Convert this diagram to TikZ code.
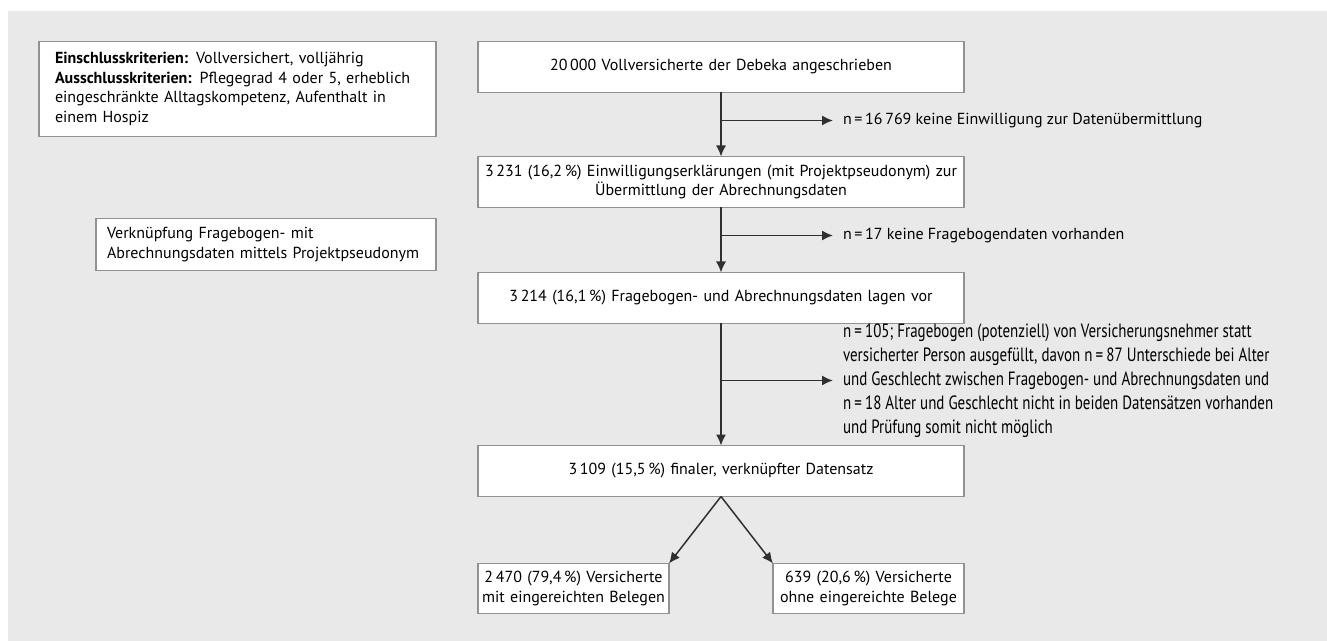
\documentclass[tikz,border=0pt]{standalone}
\usepackage{fontspec}
\setmainfont{PT Sans}
\newfontfamily\narrowfont[FakeStretch=0.78]{PT Sans}
\usetikzlibrary{positioning,arrows.meta,calc}
\definecolor{bggray}{HTML}{E9E9EA}
\definecolor{framegray}{HTML}{929292}
\definecolor{linegray}{HTML}{303030}

\begin{document}
\begin{tikzpicture}[x=0.5pt,y=-0.5pt,
            font=\fontsize{8}{9.75}\selectfont,
            box/.style={rectangle, draw=framegray, line width=0.75pt, fill=white, outer sep=0pt},
            mainbox/.style={box, minimum width=243pt, minimum height=25.5pt,
                   text width=242pt, inner xsep=0.5pt, align=center},
            smallbox/.style={box, minimum width=95.5pt, minimum height=25pt,
                   text width=91.5pt, inner xsep=2pt, inner ysep=1pt, align=center},
            note/.style={inner xsep=5pt, inner ysep=0pt, outer sep=0pt, align=left},
            arrow/.style={-{Latex[length=5.5pt,width=5pt]}, draw=linegray, line width=0.75pt}
        ]
            \useasboundingbox (0,0) rectangle (1327,641);
            \fill [bggray] (8,11) rectangle (1327,641);

            % main column
            \node [mainbox] (Invited) at (721,67) {20\,000 Vollversicherte der Debeka angeschrieben};
            \node [mainbox,below=32pt of Invited] (Consent) {3\,231 (16,2\,\%) Einwilligungserklärungen (mit Projektpseudonym) zur\\Übermittlung der Abrechnungsdaten};
            \node [mainbox,below=32.5pt of Consent] (Linked) {3\,214 (16,1\,\%) Fragebogen- und Abrechnungsdaten lagen vor};
            \node [mainbox,below=61pt of Linked] (Final) {3\,109 (15,5\,\%) finaler, verknüpfter Datensatz};
            \node [smallbox,below=33.5pt of Final.south west,anchor=north west] (WithReceipts) {2\,470 (79,4\,\%) Versicherte\\mit eingereichten Belegen};
            \node [smallbox,below=33.5pt of Final.south east,anchor=north east] (NoReceipts) {639 (20,6\,\%) Versicherte\\ohne eingereichte Belege};

            % side notes
            \node [box,left=21pt of Invited.north west,anchor=north east,text width=182.5pt,
                   inner xsep=8pt,minimum height=47.5pt,align=left] (Criteria)
                  {\textbf{Einschlusskriterien:} Vollversichert, volljährig\\
                   \textbf{Ausschlusskriterien:} Pflegegrad 4 oder 5, erheblich\\
                   eingeschränkte Alltagskompetenz, Aufenthalt in\\
                   einem Hospiz};
            \node [box,anchor=north east,text width=159pt,inner xsep=5.5pt,minimum height=26pt,align=left] (Linkage)
                  at ($(Consent.south west)+(-21pt,-5.5pt)$)
                  {Verknüpfung Fragebogen- mit\\Abrechnungsdaten mittels Projektpseudonym};

            % exclusions
            \coordinate (split1) at ($(Invited.south)+(0,-14pt)$);
            \coordinate (split2) at ($(Consent.south)+(0,-14pt)$);
            \coordinate (split3) at ($(Linked.south)+(0,-28.5pt)$);
            \node [note,anchor=west] (Refused) at ($(split1)+(56pt,0)$) {n\,=\,16\,769 keine Einwilligung zur Datenübermittlung};
            \node [note,anchor=west] (NoSurvey) at ($(split2)+(56pt,0)$) {n\,=\,17 keine Fragebogendaten vorhanden};
            \node [note,anchor=west,font=\narrowfont\fontsize{9.6}{12}\selectfont] (Mismatch) at ($(split3)+(56pt,0)$)
                  {n\,=\,105; Fragebogen (potenziell) von Versicherungsnehmer statt\\
                   versicherter Person ausgefüllt, davon n\,=\,87 Unterschiede bei Alter\\
                   und Geschlecht zwischen Fragebogen- und Abrechnungsdaten und\\
                   n\,=\,18 Alter und Geschlecht nicht in beiden Datensätzen vorhanden\\
                   und Prüfung somit nicht möglich};

            % Draw edges
            \draw [arrow] (Invited) -- (Consent);
            \draw [arrow] (Consent) -- (Linked);
            \draw [arrow] (Linked) -- (Final);
            \draw [arrow] (split1) -- (Refused);
            \draw [arrow] (split2) -- (NoSurvey);
            \draw [arrow] (split3) -- (split3 -| Mismatch.west);
            \draw [arrow] (Final.south) -- (WithReceipts.north east);
            \draw [arrow] (Final.south) -- (NoReceipts.north west);
        \end{tikzpicture}
\end{document}
